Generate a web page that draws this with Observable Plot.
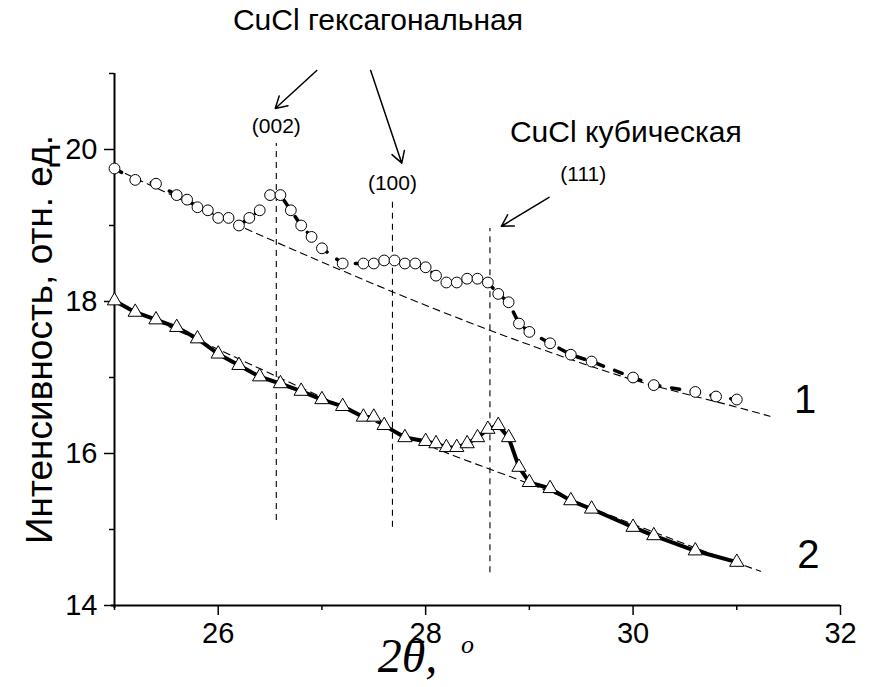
<!DOCTYPE html>
<html>
<head>
<meta charset="utf-8">
<script src="https://cdn.jsdelivr.net/npm/d3@7"></script>
<script src="https://cdn.jsdelivr.net/npm/@observablehq/plot@0.6"></script>
<style>
  body { margin: 0; background: #fff; }
</style>
</head>
<body>
<div id="chart"></div>
<script>
// Curve 1 (circles): diffraction angle 2θ, degrees, and intensity, rel. units
const angle1 = [25.0, 25.2, 25.4, 25.6, 25.7, 25.8, 25.9, 26.0, 26.1, 26.2, 26.3, 26.4, 26.5, 26.6, 26.7, 26.8, 26.9, 27.0,
  27.2, 27.4, 27.5, 27.6, 27.7, 27.8, 27.9, 28.0, 28.1, 28.2, 28.3, 28.4, 28.5, 28.6, 28.7, 28.8, 28.9, 29.0,
  29.2, 29.4, 29.6, 30.0, 30.2, 30.6, 30.8, 31.0];
const intensity1 = [19.75, 19.60, 19.55, 19.40, 19.34, 19.24, 19.20, 19.10, 19.10, 19.00, 19.10, 19.20, 19.40, 19.40, 19.20, 19.00, 18.85, 18.70,
  18.50, 18.50, 18.50, 18.54, 18.54, 18.50, 18.50, 18.45, 18.34, 18.25, 18.25, 18.30, 18.30, 18.25, 18.10, 17.99, 17.71, 17.60,
  17.45, 17.30, 17.21, 17.00, 16.90, 16.81, 16.75, 16.71];

// Curve 2 (triangles)
const angle2 = [25.0, 25.2, 25.4, 25.6, 25.8, 26.0, 26.2, 26.4, 26.6, 26.8, 27.0, 27.2, 27.4, 27.5, 27.6, 27.8,
  28.0, 28.1, 28.2, 28.3, 28.4, 28.5, 28.6, 28.7, 28.8, 28.9, 29.0, 29.2, 29.4, 29.6, 30.0, 30.2, 30.6, 31.0];
const intensity2 = [18.01, 17.86, 17.76, 17.66, 17.51, 17.31, 17.16, 17.01, 16.92, 16.82, 16.71, 16.62, 16.48, 16.48, 16.37, 16.21,
  16.16, 16.13, 16.08, 16.08, 16.13, 16.21, 16.32, 16.37, 16.21, 15.82, 15.62, 15.54, 15.38, 15.27, 15.03, 14.92, 14.72, 14.57];

// Background lines under each curve
const backAngle1 = [25, 26, 27, 28, 29, 30, 31, 31.32];
const background1 = [19.75, 19.12, 18.52, 17.95, 17.43, 16.97, 16.61, 16.49];
const backAngle2 = [25, 26, 27, 28, 29, 30, 31, 31.23];
const background2 = [18.0, 17.37, 16.74, 16.12, 15.60, 15.07, 14.56, 14.45];

// Reflections of CuCl
const peakLabels = ["(002)", "(100)", "(111)"];
const peakAngles = [26.56, 27.68, 28.62];

// Axis ticks
const xTicks = [26, 28, 30, 32];
const xMinorTicks = [25, 27, 29, 31];
const yTicks = [14, 16, 18, 20];
const yMinorTicks = [15, 17, 19, 21];

const curve1 = angle1.map((a, i) => ({angle: a, value: intensity1[i]}));
const curve2 = angle2.map((a, i) => ({angle: a, value: intensity2[i]}));
const back1 = backAngle1.map((a, i) => ({angle: a, value: background1[i]}));
const back2 = backAngle2.map((a, i) => ({angle: a, value: background2[i]}));

// Vertical markers at the reflections, with their label anchors
const markers = [
  {angle: peakAngles[0], top: 20.08, bottom: 15.12, label: peakLabels[0], lx: peakAngles[0], ly: 20.30},
  {angle: peakAngles[1], top: 19.33, bottom: 15.03, label: peakLabels[1], lx: peakAngles[1], ly: 19.55},
  {angle: peakAngles[2], top: 18.96, bottom: 14.43, label: peakLabels[2], lx: 29.52, ly: 19.68}
];

const arrows = [
  {x1: 26.95, y1: 21.04, x2: 26.55, y2: 20.54},
  {x1: 27.47, y1: 21.04, x2: 27.77, y2: 19.82},
  {x1: 29.19, y1: 19.37, x2: 28.73, y2: 18.99}
];

const font = "'Liberation Sans', Arial, sans-serif";
const serif = "'Liberation Serif', 'DejaVu Serif', serif";

const chart = Plot.plot({
  width: 871,
  height: 687,
  marginLeft: 114,
  marginRight: 31,
  marginTop: 73,
  marginBottom: 82,
  style: {fontFamily: font, background: "#fff", color: "#000"},
  x: {domain: [25, 32]},
  y: {domain: [14, 21]},
  marks: [
    // axes
    Plot.axisX({ticks: xTicks, tickFormat: d => String(d), tickSize: 10, tickPadding: 7, fontSize: 29, label: null, strokeWidth: 1.5}),
    Plot.axisX({ticks: xMinorTicks, tickSize: 5, tickFormat: () => "", label: null, strokeWidth: 1.5}),
    Plot.axisY({ticks: yTicks, tickFormat: d => String(d), tickSize: 10, tickPadding: 7, fontSize: 29, label: null, strokeWidth: 1.5}),
    Plot.axisY({ticks: yMinorTicks, tickSize: 5, tickFormat: () => "", label: null, strokeWidth: 1.5}),
    Plot.ruleX([25], {y1: 13.96, y2: 21, stroke: "#000", strokeWidth: 2}),
    Plot.ruleY([14], {x1: 24.97, x2: 32, stroke: "#000", strokeWidth: 2}),

    // reflection markers
    Plot.ruleX(markers, {x: "angle", y1: "bottom", y2: "top", stroke: "#000", strokeWidth: 1.1, strokeDasharray: "6,5"}),
    Plot.text(markers, {x: "lx", y: "ly", text: "label", fontSize: 21}),

    // background lines
    Plot.line(back1, {x: "angle", y: "value", curve: "monotone-x", stroke: "#000", strokeWidth: 1.1, strokeDasharray: "7,5"}),
    Plot.line(back2, {x: "angle", y: "value", curve: "monotone-x", stroke: "#000", strokeWidth: 1.1, strokeDasharray: "7,5"}),

    // curve 1
    Plot.line(curve1, {x: "angle", y: "value", stroke: "#000", strokeWidth: 3.5, strokeDasharray: "8,12"}),
    Plot.dot(curve1, {x: "angle", y: "value", r: 5.4, fill: "#fff", stroke: "#000", strokeWidth: 1}),

    // curve 2
    Plot.line(curve2, {x: "angle", y: "value", stroke: "#000", strokeWidth: 4}),
    Plot.dot(curve2, {x: "angle", y: "value", symbol: "triangle", r: 5.3, fill: "#fff", stroke: "#000", strokeWidth: 1}),

    // phase annotations
    Plot.text(["CuCl гексагональная"], {x: 27.54, y: 21.70, fontSize: 30}),
    Plot.text(["CuCl кубическая"], {x: 29.93, y: 20.22, fontSize: 30}),
    Plot.arrow(arrows, {x1: "x1", y1: "y1", x2: "x2", y2: "y2", stroke: "#000", strokeWidth: 1.5, headLength: 13}),

    // curve numbers
    Plot.text(["1"], {x: 31.66, y: 16.70, fontSize: 40}),
    Plot.text(["2"], {x: 31.69, y: 14.66, fontSize: 40}),

    // axis titles
    Plot.text(["Интенсивность, отн. ед."], {frameAnchor: "left", textAnchor: "middle", rotate: -90, dx: -74, fontSize: 37}),
    Plot.text(["2θ,"], {frameAnchor: "bottom", textAnchor: "middle", dx: -70, dy: 66, fontSize: 48, fontStyle: "italic", fontFamily: serif}),
    Plot.text(["o"], {frameAnchor: "bottom", textAnchor: "middle", dx: -10, dy: 47, fontSize: 26, fontStyle: "italic", fontFamily: serif})
  ]
});

document.getElementById("chart").appendChild(chart);
</script>
</body>
</html>
